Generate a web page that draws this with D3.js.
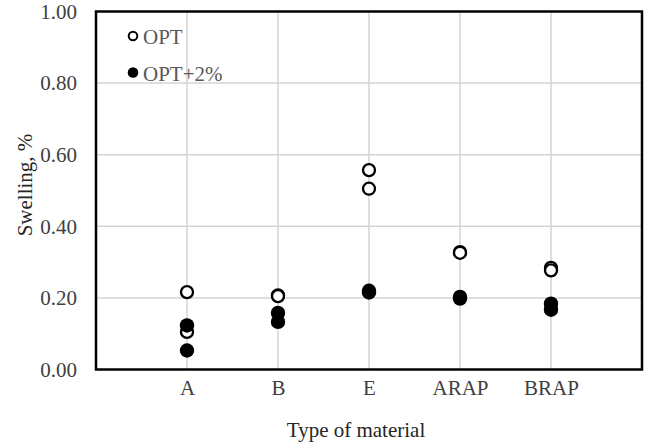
<!DOCTYPE html>
<html>
<head>
<meta charset="utf-8">
<script src="https://cdn.jsdelivr.net/npm/d3@7"></script>
<style>
  html, body { margin: 0; padding: 0; background: #fff; }
  svg { display: block; }
  svg text { font-family: 'Liberation Serif', 'Times New Roman', Times, 'DejaVu Serif', serif !important; }
</style>
</head>
<body>
<svg id="chart" width="646" height="444"></svg>
<script>
// ---- data ----
const categories = ["A", "B", "E", "ARAP", "BRAP"];
const seriesNames = ["OPT", "OPT+2%"];
const optValues = [[0.216, 0.105], [0.207, 0.205], [0.557, 0.505], [0.328, 0.326], [0.284, 0.277]];
const opt2Values = [[0.123, 0.053], [0.158, 0.133], [0.220, 0.215], [0.203, 0.198], [0.184, 0.167]];
const yTicks = [0, 0.2, 0.4, 0.6, 0.8, 1.0];

// ---- layout ----
const FONT = "'Liberation Serif', 'Times New Roman', Times, 'DejaVu Serif', serif";
const FS = 21;
const svg = d3.select("#chart");
const pL = 96, pR = 642, pT = 11.5, pB = 369.5;

const x = d3.scaleLinear().domain([0, categories.length + 1]).range([pL, pR]);
const y = d3.scaleLinear().domain([0, 1]).range([pB, pT]);

// gridlines
const grid = svg.append("g");
grid.selectAll("line.h").data(yTicks.slice(1, -1)).join("line")
  .attr("x1", pL).attr("x2", pR)
  .attr("y1", d => y(d)).attr("y2", d => y(d))
  .attr("stroke", "#d4d4d4").attr("stroke-width", 1.5);
grid.selectAll("line.v").data(categories).join("line")
  .attr("x1", (d, i) => x(i + 1)).attr("x2", (d, i) => x(i + 1))
  .attr("y1", pT).attr("y2", pB)
  .attr("stroke", "#d4d4d4").attr("stroke-width", 1.5);

// y axis tick labels
const yAxis = d3.axisLeft(y).tickValues(yTicks).tickFormat(d3.format(".2f")).tickSize(0).tickPadding(19);
const ya = svg.append("g").attr("transform", `translate(${pL},0)`).call(yAxis).attr("font-family", null);
ya.select(".domain").remove();
ya.selectAll("text").attr("font-size", FS).attr("fill", "#404040").style("font-family", FONT);

// x axis labels
const xAxis = d3.axisBottom(x).tickValues(categories.map((d, i) => i + 1))
  .tickFormat((d) => categories[d - 1]).tickSize(0).tickPadding(10.5);
const xa = svg.append("g").attr("transform", `translate(0,${pB})`).call(xAxis).attr("font-family", null);
xa.select(".domain").remove();
xa.selectAll("text").attr("font-size", FS).attr("fill", "#404040").style("font-family", FONT);

// plot border
svg.append("rect").attr("x", pL).attr("y", pT)
  .attr("width", pR - pL).attr("height", pB - pT)
  .attr("fill", "none").attr("stroke", "#000").attr("stroke-width", 2.5);

// points: OPT (open) first, then OPT+2% (filled)
const optPts = [];
optValues.forEach((vals, i) => vals.forEach(v => optPts.push({ i, v })));
const opt2Pts = [];
opt2Values.forEach((vals, i) => vals.forEach(v => opt2Pts.push({ i, v })));

svg.append("g").selectAll("circle").data(optPts).join("circle")
  .attr("cx", d => x(d.i + 1)).attr("cy", d => y(d.v)).attr("r", 6)
  .attr("fill", "#fff").attr("stroke", "#000").attr("stroke-width", 2.3);
svg.append("g").selectAll("circle").data(opt2Pts).join("circle")
  .attr("cx", d => x(d.i + 1)).attr("cy", d => y(d.v)).attr("r", 7.2)
  .attr("fill", "#000");

// legend
const lg = svg.append("g");
lg.append("circle").attr("cx", 133).attr("cy", 36).attr("r", 4.3)
  .attr("fill", "#fff").attr("stroke", "#000").attr("stroke-width", 2);
lg.append("circle").attr("cx", 133).attr("cy", 72.5).attr("r", 5.3).attr("fill", "#000");
lg.append("text").attr("x", 143).attr("y", 44).attr("font-size", FS).attr("fill", "#595959")
  .style("font-family", FONT).text(seriesNames[0]);
lg.append("text").attr("x", 143).attr("y", 80.5).attr("font-size", FS).attr("fill", "#595959")
  .style("font-family", FONT).text(seriesNames[1]);

// axis titles
svg.append("text").attr("x", 356).attr("y", 437)
  .attr("text-anchor", "middle").attr("font-size", FS).attr("fill", "#262626")
  .style("font-family", FONT).text("Type of material");
svg.append("text").attr("transform", `translate(32,185) rotate(-90)`)
  .attr("text-anchor", "middle").attr("font-size", FS).attr("fill", "#262626")
  .style("font-family", FONT).text("Swelling, %");
</script>
</body>
</html>
